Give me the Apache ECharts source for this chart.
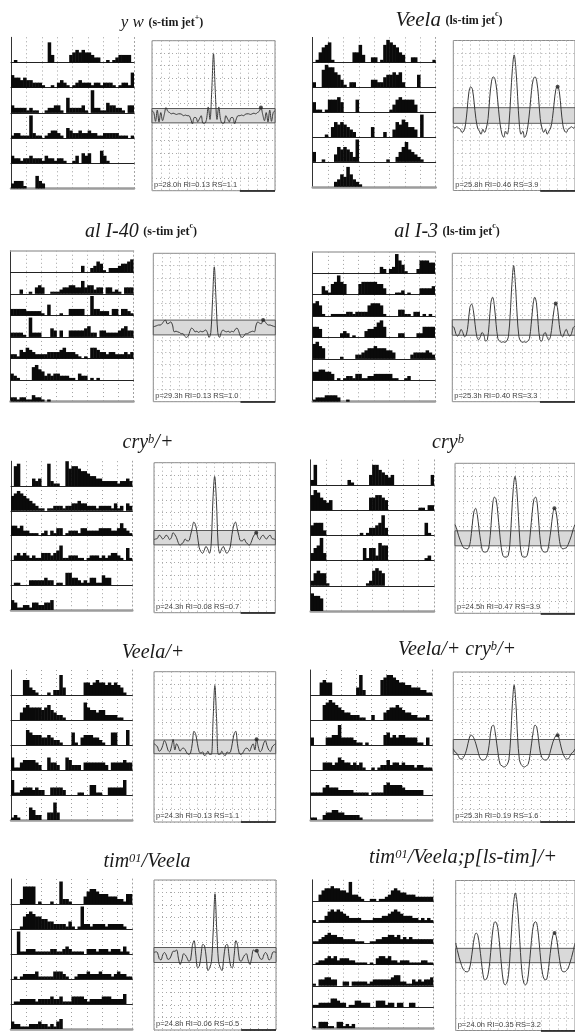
<!DOCTYPE html>
<html><head><meta charset="utf-8">
<script src="https://cdn.jsdelivr.net/npm/echarts/dist/echarts.min.js"></script>
<style>html,body{margin:0;padding:0;background:#fff}#c{width:575px;height:1032px}</style>
</head><body><div id="c"></div>
<script>
// ---------- DATA ----------
const bins = Array.from({length: 40}, (_, i) => i);
const lags = [-70,-68,-66,-64,-62,-60,-58,-56,-54,-52,-50,-48,-46,-44,-42,-40,-38,-36,-34,-32,-30,-28,-26,-24,-22,-20,-18,-16,-14,-12,-10,-8,-6,-4,-2,0,2,4,6,8,10,12,14,16,18,20,22,24,26,28,30,32,34,36,38,40,42,44,46,48,50,52,54,56,58,60,62,64,66,68,70];

const titles = [
  '{m|y w} {s|(s-tim jet}{ss|+}{s|)}',
  '{m|Veela} {s|(ls-tim jet}{ss|c}{s|)}',
  '{m|al I-40} {s|(s-tim jet}{ss|c}{s|)}',
  '{m|al I-3} {s|(ls-tim jet}{ss|c}{s|)}',
  '{m|cry}{sup|b}{m|/+}',
  '{m|cry}{sup|b}',
  '{m|Veela/+}',
  '{m|Veela/+ cry}{sup|b}{m|/+}',
  '{m|tim}{sup|01}{m|/Veela}',
  '{m|tim}{sup|01}{m|/Veela;p[ls-tim]/+}'
];
const stats = [
  'p=28.0h RI=0.13 RS=1.1','p=25.8h RI=0.46 RS=3.9','p=29.3h RI=0.13 RS=1.0','p=25.3h RI=0.40 RS=3.3',
  'p=24.3h RI=0.08 RS=0.7','p=24.5h RI=0.47 RS=3.9','p=24.3h RI=0.13 RS=1.1','p=25.3h RI=0.19 RS=1.6',
  'p=24.8h RI=0.06 RS=0.5','p=24.0h RI=0.35 RS=3.2'
];
const bands = [0.115, 0.125, 0.12, 0.125, 0.115, 0.12, 0.11, 0.12, 0.12, 0.115];
const stars = [[54,0.13],[50,0.46],[56,0.12],[48,0.39],[48,0.08],[46,0.48],[48,0.12],[50,0.19],[48,0.07],[46,0.36]];

const actYw = [
 [0,1,0,0,0,0,0,0,0,0,0,0,8,3,0,0,0,0,0,3,4,5,4,5,4,4,3,2,2,0,0,1,0,1,2,3,3,3,3,0],
 [5,4,4,3,4,3,3,2,2,2,1,0,0,1,0,2,3,2,1,0,1,2,3,2,2,2,1,2,2,1,2,2,2,1,0,1,2,2,1,6],
 [3,2,2,2,2,1,2,1,1,0,0,1,2,2,3,3,1,0,6,2,2,2,2,3,1,0,9,2,2,1,1,4,3,3,2,2,1,0,3,3],
 [1,2,2,1,1,1,9,2,1,1,0,1,2,3,3,2,1,0,4,3,2,2,3,2,2,3,2,2,1,1,2,2,2,2,2,1,1,1,0,1],
 [3,2,2,1,2,2,3,2,2,2,1,3,2,2,1,2,2,1,0,0,1,3,0,4,3,4,0,0,0,5,3,1,0,0,0,0,0,0,0,0],
 [2,3,3,3,1,0,0,0,5,3,2,0,0,0,0,0,0,0,0,0,0,0,0,0,0,0,0,0,0,0,0,0,0,0,0,0,0,0,0,0]
];
const actVeela = [
 [0,1,4,6,7,8,1,0,0,0,0,0,0,4,4,7,3,0,0,2,2,0,1,7,9,8,7,6,4,3,0,0,2,2,0,0,0,0,0,1],
 [2,0,0,7,9,8,8,6,5,3,1,0,2,2,0,0,0,0,0,3,3,2,2,4,5,5,6,5,6,2,0,0,0,0,5,0,0,0,0,0],
 [4,1,1,0,1,5,5,5,6,4,0,0,0,0,5,0,0,0,0,0,0,0,0,0,0,1,3,5,6,5,5,5,5,3,0,0,0,0,0,0],
 [0,0,0,0,1,0,4,6,5,6,5,4,3,2,0,0,0,0,0,4,0,0,0,2,0,0,3,6,5,7,6,4,4,3,0,9,0,0,0,0],
 [4,0,0,1,0,0,0,3,6,5,6,5,4,2,9,0,0,0,0,0,0,0,0,0,1,0,0,2,4,6,8,5,4,3,2,1,0,0,0,0],
 [0,0,0,0,0,0,0,2,3,5,4,8,5,3,2,1,0,0,0,0,0,0,0,0,0,0,0,0,0,0,0,0,0,0,0,0,0,0,0,0]
];
const actAl40 = [
 [0,0,0,0,0,0,0,0,0,0,0,0,0,0,0,0,0,0,0,0,0,0,0,3,0,0,2,3,5,4,1,0,2,2,2,3,4,4,5,6],
 [0,0,0,2,0,0,1,0,3,4,3,0,0,1,1,1,2,3,3,4,4,3,3,6,3,4,4,2,3,3,0,3,3,1,2,1,0,3,3,3],
 [3,3,3,3,3,2,2,2,2,2,1,0,5,0,0,0,1,0,0,3,3,3,3,3,0,0,9,3,3,2,2,2,0,3,3,0,3,3,2,1],
 [2,2,2,2,1,0,9,2,2,2,0,0,0,4,3,0,3,0,0,3,3,3,3,3,4,5,2,2,0,3,3,2,2,2,2,3,4,5,3,3],
 [2,2,1,4,3,5,4,3,2,2,2,2,3,3,3,3,4,5,3,3,3,2,1,0,1,0,5,5,4,3,3,2,3,3,2,2,2,3,2,3],
 [3,2,1,0,0,0,0,6,7,5,4,2,3,2,3,3,2,2,2,1,1,0,3,2,2,0,1,0,1,0,0,0,0,0,0,0,0,0,0,0],
 [2,2,1,2,2,1,1,3,2,2,1,0,1,0,0,0,0,0,0,0,0,0,0,0,0,0,0,0,0,0,0,0,0,0,0,0,0,0,0,0]
];
const actAl3 = [
 [0,0,0,0,0,0,0,0,0,0,0,0,0,0,0,0,0,0,0,0,0,0,3,2,0,2,3,9,6,4,1,0,0,0,2,6,6,6,5,5],
 [0,0,0,4,2,1,5,6,9,6,5,0,0,0,0,5,6,6,6,6,6,5,5,3,0,0,0,1,1,2,0,1,0,0,0,3,3,3,3,4],
 [6,7,5,1,0,0,1,1,1,1,1,2,2,1,2,2,2,2,5,6,6,6,5,1,0,0,0,0,3,3,1,1,0,2,2,0,1,0,1,0],
 [5,5,4,0,0,0,0,0,0,2,3,2,0,1,0,0,0,3,4,4,5,7,8,5,0,0,0,0,2,2,0,0,0,0,2,2,5,5,5,5],
 [7,8,6,5,0,0,0,0,0,1,0,0,0,0,2,2,3,4,5,5,6,5,5,5,4,4,3,0,0,0,0,0,2,3,3,3,3,4,3,2],
 [4,4,5,5,4,4,3,0,1,0,1,2,2,1,3,3,1,1,2,2,3,3,3,3,3,3,1,1,0,0,1,2,0,0,0,0,0,0,0,0],
 [1,2,2,2,3,3,3,3,2,0,0,1,0,0,0,0,0,0,0,0,0,0,0,0,0,0,0,0,0,0,0,0,0,0,0,0,0,0,0,0]
];
const actCryHet = [
 [0,8,9,0,0,0,0,3,2,3,0,0,9,2,1,1,0,0,10,7,8,8,7,6,6,5,4,4,3,3,2,2,2,2,2,1,2,2,3,2],
 [6,7,8,7,6,5,4,3,2,1,1,0,1,1,2,2,2,1,2,2,3,3,4,3,3,2,2,2,1,2,2,2,2,1,3,1,2,0,3,2],
 [4,4,3,4,2,2,1,1,1,0,1,2,0,2,1,3,3,0,1,2,2,2,1,3,3,2,2,2,2,3,3,3,3,2,2,3,5,3,2,1],
 [0,2,3,2,3,2,1,2,1,1,3,3,3,2,3,4,6,1,1,2,2,2,1,1,0,1,2,2,2,1,2,1,2,3,3,2,1,0,5,1],
 [0,1,1,0,0,0,2,2,2,2,2,3,2,2,0,1,1,0,5,5,3,3,2,1,2,1,3,3,1,1,4,3,3,0,0,0,0,0,0,0],
 [4,3,1,1,2,2,1,3,3,2,2,3,3,4,0,0,0,0,0,0,0,0,0,0,0,0,0,0,0,0,0,0,0,0,0,0,0,0,0,0]
];
const actCry = [
 [2,8,0,0,0,0,0,0,0,0,0,0,2,1,0,0,0,0,0,4,8,8,6,5,4,3,4,0,0,0,0,0,0,0,0,0,0,0,0,4],
 [6,8,7,5,4,3,4,0,0,0,0,0,0,0,0,0,0,0,0,5,5,6,6,5,4,0,0,0,0,0,0,0,0,0,0,1,1,0,2,2],
 [4,5,5,5,2,0,0,0,0,0,0,0,0,0,0,0,1,0,1,3,3,4,5,8,3,0,0,0,0,0,0,0,0,0,0,0,0,5,1,0],
 [3,5,6,9,3,0,0,0,0,0,0,0,0,0,0,0,0,5,1,5,5,2,7,6,6,0,0,0,0,0,0,0,0,0,0,0,0,1,2,0],
 [2,5,6,5,5,1,0,0,0,0,0,0,0,0,0,0,0,0,1,2,6,7,6,5,0,0,0,0,0,0,0,0,0,0,0,0,0,0,0,0],
 [7,6,6,5,0,0,0,0,0,0,0,0,0,0,0,0,0,0,0,0,0,0,0,0,0,0,0,0,0,0,0,0,0,0,0,0,0,0,0,0]
];
const actVeelaHet = [
 [0,0,0,0,6,6,3,2,1,0,0,0,1,0,2,2,8,3,0,0,0,0,0,0,5,5,4,5,6,5,5,4,5,4,5,4,3,1,0,0],
 [0,0,0,3,5,6,5,5,5,5,4,5,6,4,3,2,2,1,0,0,0,0,0,0,7,5,4,4,3,4,4,2,2,2,2,1,1,0,0,0],
 [0,0,0,0,0,6,5,4,4,4,3,3,4,3,2,2,1,0,0,0,5,1,0,3,4,4,4,3,3,2,1,0,0,5,5,0,0,0,6,0],
 [5,1,1,3,4,4,4,4,3,2,0,0,5,3,3,2,0,0,5,4,2,2,2,0,3,3,3,3,3,3,3,2,0,3,3,3,3,4,3,3],
 [6,1,1,2,3,3,3,2,3,2,2,0,0,3,3,3,3,2,0,0,0,0,1,1,0,0,4,4,1,1,0,0,3,3,3,3,3,6,0,0],
 [1,2,1,0,0,0,5,4,2,2,0,0,3,3,7,3,0,0,0,0,0,0,0,0,0,0,0,0,0,0,0,0,0,0,0,0,0,0,0,0]
];
const actVeelaCry = [
 [0,0,0,5,6,5,5,0,0,0,0,0,0,0,0,3,8,2,0,0,0,0,0,6,7,8,8,7,6,5,5,4,4,3,3,3,2,2,1,1],
 [0,0,0,0,6,7,8,7,6,5,4,3,3,2,2,2,1,1,0,0,2,0,0,0,3,4,5,5,6,5,4,3,3,2,2,1,1,1,2,0],
 [3,0,0,0,0,3,3,4,4,8,3,3,3,3,2,1,1,0,1,0,0,0,0,0,4,5,3,4,3,4,4,3,3,3,3,1,1,0,3,0],
 [0,0,0,0,3,3,3,2,3,5,4,3,3,2,3,2,3,1,0,0,1,0,1,2,2,4,2,3,3,2,3,2,2,2,1,2,2,1,1,1],
 [1,1,1,1,3,4,3,3,3,2,2,2,2,2,1,1,1,1,1,0,1,1,1,1,4,5,4,4,4,4,3,2,2,2,2,2,2,0,0,0],
 [1,1,0,0,2,3,3,4,4,3,3,2,2,2,2,2,1,0,0,0,0,0,0,0,0,0,0,0,0,0,0,0,0,0,0,0,0,0,0,0]
];
const actTim = [
 [0,0,0,2,7,7,7,7,0,1,0,0,0,1,0,0,9,2,2,1,0,0,0,0,3,5,6,6,5,4,4,4,3,3,3,2,2,1,4,4],
 [0,0,0,1,5,6,7,6,5,5,4,4,3,3,2,2,2,2,1,3,1,0,1,9,2,2,1,2,2,2,2,1,2,2,2,2,2,1,0,0],
 [0,0,9,1,1,2,2,2,1,1,1,1,1,2,2,1,1,2,3,2,1,1,1,1,0,2,2,2,1,2,2,2,1,2,2,2,1,3,1,0],
 [0,1,0,1,2,2,2,2,3,1,1,1,1,1,3,3,3,2,1,0,0,1,2,2,2,3,2,2,2,3,2,2,2,1,2,3,2,2,1,1],
 [0,1,1,2,2,2,2,2,1,2,2,2,2,3,2,2,3,1,1,1,3,3,3,3,2,1,2,2,2,2,3,3,3,2,2,2,2,4,0,0],
 [3,2,2,1,1,1,2,2,2,3,2,2,1,2,1,3,4,0,0,0,0,0,0,0,0,0,0,0,0,0,0,0,0,0,0,0,0,0,0,0]
];
const actTimLs = [
 [0,0,3,5,6,6,7,6,6,5,5,4,9,3,3,2,1,0,0,1,1,0,1,1,2,3,5,6,5,4,4,3,3,3,2,2,2,2,2,2],
 [1,0,1,1,3,5,6,5,6,5,4,3,2,2,2,2,1,1,1,1,2,2,2,3,3,4,5,6,5,4,3,3,3,2,2,1,2,1,2,1],
 [1,1,2,3,4,5,4,4,3,3,2,2,2,2,1,1,1,0,0,1,1,2,2,3,3,4,4,3,4,2,3,2,3,2,2,2,2,2,2,2],
 [0,1,2,2,3,4,3,4,2,3,3,3,2,2,1,1,1,1,0,1,0,3,4,4,3,4,2,2,1,2,2,2,1,1,1,1,2,2,1,1],
 [1,0,3,3,4,4,3,3,0,0,2,2,0,2,2,2,2,2,1,2,3,3,3,3,3,3,4,5,5,2,2,1,1,3,2,3,2,3,3,4],
 [1,1,2,2,2,2,4,4,3,2,2,0,1,1,3,3,2,2,2,0,0,3,3,3,1,2,2,0,2,2,0,0,2,2,0,0,0,0,0,0],
 [1,0,3,3,3,1,1,0,3,3,1,2,1,2,0,0,0,0,0,0,0,0,0,0,0,0,0,0,0,0,0,0,0,0,0,0,0,0,0,0]
];

const acfYw = [0.08,0.05,-0.09,0.09,-0.1,0.05,-0.08,0.02,0.13,0.07,0.05,0.03,0.04,0.03,0.02,0.03,0.03,0.02,0.0,0.01,0.0,0.0,-0.05,-0.13,-0.03,-0.03,-0.1,-0.05,0.0,-0.12,-0.12,-0.06,0.14,-0.06,0.4,0.99,0.4,-0.06,0.14,-0.06,-0.12,-0.12,0.0,-0.05,-0.1,-0.03,-0.03,-0.13,-0.05,0.0,0.0,0.01,0.0,0.02,0.03,0.03,0.02,0.03,0.04,0.03,0.05,0.07,0.13,0.02,-0.08,0.05,-0.1,0.09,-0.09,0.05,0.08];
const acfVeela = [-0.18,-0.2,-0.18,-0.2,-0.22,-0.27,-0.25,-0.15,0.1,0.38,0.46,0.42,0.2,-0.05,-0.2,-0.25,-0.3,-0.22,-0.27,-0.2,-0.05,0.3,0.55,0.62,0.58,0.4,0.1,-0.15,-0.3,-0.35,-0.25,-0.3,-0.15,0.3,0.75,0.97,0.75,0.3,-0.15,-0.3,-0.25,-0.35,-0.3,-0.15,0.1,0.4,0.58,0.62,0.55,0.3,-0.05,-0.2,-0.27,-0.22,-0.3,-0.25,-0.2,-0.05,0.2,0.42,0.46,0.38,0.1,-0.15,-0.25,-0.27,-0.22,-0.2,-0.18,-0.2,-0.18];
const acfAl40 = [0.01,0.02,0.03,0.04,0.04,0.06,0.1,0.12,0.06,0.07,0.09,0.04,-0.07,-0.06,-0.07,-0.08,-0.1,-0.1,-0.14,-0.16,-0.14,-0.06,-0.01,-0.03,-0.07,-0.06,-0.08,-0.06,-0.07,-0.06,-0.04,-0.08,-0.16,-0.08,0.45,0.98,0.45,-0.08,-0.16,-0.08,-0.04,-0.06,-0.07,-0.06,-0.08,-0.06,-0.07,-0.03,-0.01,-0.06,-0.14,-0.16,-0.14,-0.1,-0.1,-0.08,-0.07,-0.06,-0.07,0.04,0.09,0.07,0.06,0.12,0.1,0.06,0.04,0.04,0.03,0.02,0.01];
const acfAl3 = [0.02,0.0,-0.1,-0.14,-0.1,-0.03,-0.08,-0.15,-0.12,0.05,0.32,0.38,0.28,0.05,-0.15,-0.2,-0.15,-0.08,-0.12,-0.22,-0.2,0.05,0.4,0.49,0.35,0.05,-0.18,-0.22,-0.24,-0.23,-0.24,-0.22,-0.15,0.2,0.7,1.0,0.7,0.2,-0.15,-0.22,-0.24,-0.23,-0.24,-0.22,-0.18,0.05,0.35,0.49,0.4,0.05,-0.2,-0.22,-0.12,-0.08,-0.15,-0.2,-0.15,0.05,0.28,0.38,0.32,0.05,-0.12,-0.15,-0.08,-0.03,-0.1,-0.14,-0.1,0.0,0.02];
const acfCryHet = [-0.03,-0.02,-0.01,0.04,0.02,-0.02,0.0,0.04,0.02,-0.03,0.0,0.08,0.05,0.0,-0.08,-0.12,-0.1,-0.07,-0.02,-0.05,-0.05,0.03,0.15,0.25,0.2,0.05,-0.15,-0.22,-0.25,-0.2,-0.14,-0.18,-0.25,-0.1,0.6,0.98,0.6,-0.1,-0.25,-0.18,-0.14,-0.2,-0.25,-0.22,-0.15,0.05,0.2,0.25,0.15,0.03,-0.05,-0.05,-0.02,-0.07,-0.1,-0.12,-0.08,0.0,0.05,0.08,0.0,-0.03,0.02,0.04,0.0,-0.02,0.02,0.04,-0.01,-0.02,-0.03];
const acfCry = [0.22,0.15,0.05,-0.03,-0.1,-0.15,-0.16,-0.17,-0.15,-0.05,0.2,0.42,0.48,0.38,0.15,-0.05,-0.2,-0.22,-0.22,-0.2,-0.1,0.2,0.55,0.66,0.62,0.4,0.1,-0.15,-0.28,-0.3,-0.3,-0.28,-0.1,0.35,0.8,0.99,0.8,0.35,-0.1,-0.28,-0.3,-0.3,-0.28,-0.15,0.1,0.4,0.62,0.66,0.55,0.2,-0.1,-0.2,-0.22,-0.22,-0.2,-0.05,0.15,0.38,0.48,0.42,0.2,-0.05,-0.15,-0.17,-0.16,-0.15,-0.1,-0.03,0.05,0.15,0.22];
const acfVeelaHet = [0.05,0.03,0.0,-0.07,-0.05,0.02,0.1,0.05,-0.05,-0.08,0.0,0.12,-0.05,0.05,0.0,-0.07,-0.03,-0.02,-0.05,-0.1,-0.12,-0.1,0.05,0.25,0.2,0.05,-0.08,-0.1,-0.08,-0.14,-0.12,-0.07,-0.12,-0.12,0.45,0.98,0.45,-0.12,-0.12,-0.07,-0.12,-0.14,-0.08,-0.1,-0.08,0.05,0.2,0.25,0.05,-0.1,-0.12,-0.1,-0.05,-0.02,-0.03,-0.07,0.0,0.05,-0.05,0.12,0.0,-0.08,-0.05,0.05,0.1,0.02,-0.05,-0.07,0.0,0.03,0.05];
const acfVeelaCry = [-0.03,-0.08,-0.1,-0.15,-0.19,-0.19,-0.16,-0.1,0.0,0.12,0.19,0.18,0.13,0.05,-0.05,-0.15,-0.2,-0.21,-0.2,-0.17,-0.08,0.12,0.32,0.35,0.25,0.05,-0.15,-0.28,-0.3,-0.32,-0.31,-0.28,-0.2,0.15,0.7,0.99,0.7,0.15,-0.2,-0.28,-0.31,-0.32,-0.3,-0.28,-0.15,0.05,0.25,0.35,0.32,0.12,-0.08,-0.17,-0.2,-0.21,-0.2,-0.15,-0.05,0.05,0.13,0.18,0.19,0.12,0.0,-0.1,-0.16,-0.19,-0.19,-0.15,-0.1,-0.08,-0.03];
const acfTim = [0.04,0.05,0.04,-0.06,-0.08,0.0,0.04,0.0,-0.07,-0.06,0.0,0.06,0.06,0.08,-0.05,-0.15,-0.08,0.02,0.0,-0.05,-0.1,-0.08,0.15,0.23,0.0,-0.2,-0.18,0.0,0.17,0.15,-0.05,-0.25,-0.2,-0.1,0.4,0.98,0.4,-0.1,-0.2,-0.25,-0.05,0.15,0.17,0.0,-0.18,-0.2,0.0,0.23,0.15,-0.08,-0.1,-0.05,0.0,0.02,-0.08,-0.15,-0.05,0.08,0.06,0.06,0.0,-0.06,-0.07,0.0,0.04,0.0,-0.08,-0.06,0.04,0.05,0.04];
const acfTimLs = [0.2,0.08,-0.03,-0.12,-0.2,-0.24,-0.26,-0.26,-0.22,-0.08,0.12,0.3,0.36,0.32,0.15,-0.08,-0.3,-0.39,-0.38,-0.3,-0.1,0.2,0.45,0.54,0.52,0.38,0.1,-0.2,-0.42,-0.47,-0.44,-0.3,0.05,0.5,0.85,1.0,0.85,0.5,0.05,-0.3,-0.44,-0.47,-0.42,-0.2,0.1,0.38,0.52,0.54,0.45,0.2,-0.1,-0.3,-0.38,-0.39,-0.3,-0.08,0.15,0.32,0.36,0.3,0.12,-0.08,-0.22,-0.26,-0.26,-0.24,-0.2,-0.12,-0.03,0.08,0.2];

const actograms = [actYw, actVeela, actAl40, actAl3, actCryHet, actCry, actVeelaHet, actVeelaCry, actTim, actTimLs];
const acfs = [acfYw, acfVeela, acfAl40, acfAl3, acfCryHet, acfCry, acfVeelaHet, acfVeelaCry, acfTim, acfTimLs];

// ---------- LAYOUT (pixels) ----------
const layout = [
 {ax:11,    aw:123,   b1:62.5,  sp:25.2,  cx:152,   cy:40.7,  cw:123,   ch:150,   tx:162, ty:22.7, fs:17, topLine:false},
 {ax:312.7, aw:123,   b1:62.3,  sp:24.9,  cx:453.3, cy:40.5,  cw:123,   ch:150,   tx:449, ty:20.7, fs:21, topLine:false},
 {ax:10.5,  aw:123,   b1:272.3, sp:21.55, cx:153.3, cy:253.3, cw:122,   ch:148.4, tx:141, ty:231.7, fs:20, topLine:true},
 {ax:312.7, aw:122.3, b1:273.3, sp:21.4,  cx:452.3, cy:253.3, cw:123,   ch:148.4, tx:447, ty:231.7, fs:20, topLine:true},
 {ax:11,    aw:121.3, b1:486,   sp:24.8,  cx:154,   cy:462.7, cw:121.3, ch:150,   tx:148, ty:443, fs:20, topLine:false},
 {ax:310.7, aw:123.3, b1:485,   sp:25.2,  cx:455,   cy:463.3, cw:122,   ch:150,   tx:448, ty:443, fs:20, topLine:false},
 {ax:11,    aw:121.3, b1:695,   sp:25,    cx:154,   cy:671.7, cw:121.7, ch:150.3, tx:153, ty:653, fs:20, topLine:false},
 {ax:310.7, aw:121.6, b1:695,   sp:25,    cx:453.3, cy:672,   cw:122,   ch:150,   tx:457, ty:650, fs:20, topLine:false},
 {ax:11,    aw:121.3, b1:904,   sp:25,    cx:154,   cy:880,   cw:122,   ch:150,   tx:147, ty:862, fs:20, topLine:false},
 {ax:312.7, aw:120.6, b1:901,   sp:21.2,  cx:455.7, cy:880.5, cw:122,   ch:150,   tx:463, ty:858, fs:20.5, topLine:false}
];

// ---------- BUILD ----------
const grids = [], xAxes = [], yAxes = [], series = [], titleList = [];
const serif = "'Liberation Serif','DejaVu Serif',serif";
const off = {show:false};
const dotted = {color:'#a0a0a0', width:1, type:[1,3]};

actograms.forEach((act, pi) => {
  const L = layout[pi];
  act.forEach((row, ri) => {
    const gi = grids.length;
    const last = ri === act.length - 1;
    grids.push({left: L.ax, top: L.b1 + L.sp * (ri - 1), width: L.aw, height: L.sp, containLabel: false});
    const xi = xAxes.length, yi = yAxes.length;
    xAxes.push({type:'category', gridIndex: gi, data: bins, boundaryGap: true, position:'bottom',
      axisLine:{show:true, onZero:false, lineStyle:{color: last ? '#9c9c9c' : '#222', width: last ? 2.5 : 1}},
      axisTick: off, axisLabel: off,
      splitLine:{show:true, interval: (i) => i % 5 === 0 && i > 0, lineStyle: dotted}});
    if (ri === 0 && L.topLine) {
      xAxes.push({type:'category', gridIndex: gi, data: bins, position:'top',
        axisLine:{show:true, onZero:false, lineStyle:{color:'#aaaaaa', width:1.5}}, axisTick: off, axisLabel: off, splitLine: off});
    }
    yAxes.push({type:'value', gridIndex: gi, min:0, max:10, position:'left',
      axisLine:{show:true, onZero:false, lineStyle:{color:'#333', width:1}}, axisTick: off, axisLabel: off, splitLine: off});
    yAxes.push({type:'value', gridIndex: gi, min:0, max:10, position:'right',
      axisLine:{show:true, onZero:false, lineStyle: dotted}, axisTick: off, axisLabel: off, splitLine: off});
    series.push({type:'bar', xAxisIndex: xi, yAxisIndex: yi, data: row, barWidth:'115%',
      itemStyle:{color:'#0a0a0a'}, silent:true, large:false});
  });

  const gi = grids.length;
  const xi = xAxes.length, yi = yAxes.length;
  grids.push({left: L.cx, top: L.cy, width: L.cw, height: L.ch, show:true, borderColor:'#8a8a8a', borderWidth:1, containLabel:false});
  xAxes.push({type:'value', gridIndex: gi, min:-70, max:70, interval:10,
    axisLine: off, axisTick: off, axisLabel: off,
    splitLine:{show:true, lineStyle:{color:'#a8a8a8', width:1, type:[1,3]}}});
  yAxes.push({type:'value', gridIndex: gi, min:-1.2, max:1.2, interval:0.2,
    axisLine: off, axisTick: off, axisLabel: off,
    splitLine:{show:true, lineStyle:{color:'#a8a8a8', width:1, type:[1,3]}}});
  series.push({type:'line', xAxisIndex: xi, yAxisIndex: yi, data: lags.map((l, i) => [l, acfs[pi][i]]),
    smooth: 0.35, symbol:'none', silent:true, lineStyle:{color:'#3a3a3a', width:1},
    markArea:{silent:true, itemStyle:{color:'#d9d9d9', borderColor:'#4a4a4a', borderWidth:0.9},
      data:[[{yAxis:-bands[pi]}, {yAxis:bands[pi]}]]},
    markLine:{silent:true, symbol:'none', label:{show:false}, lineStyle:{color:'#111', width:1.5, type:'solid'},
      data:[[{coord:[30,-1.2]}, {coord:[70,-1.2]}]]}});
  series.push({type:'scatter', xAxisIndex: xi, yAxisIndex: yi, data:[stars[pi]], symbol:'circle', symbolSize:4,
    itemStyle:{color:'#222'}, silent:true, z:5});

  titleList.push({text: titles[pi], left: L.tx, top: L.ty, padding:0, textAlign:'center', textVerticalAlign:'middle',
    textStyle:{fontFamily: serif, fontWeight:'normal', color:'#1a1a1a', rich:{
      m:{fontFamily: serif, fontStyle:'italic', fontWeight:'normal', fontSize: L.fs, color:'#1a1a1a'},
      s:{fontFamily: serif, fontStyle:'normal', fontWeight:'bold', fontSize: 12, color:'#1a1a1a'},
      ss:{fontFamily: serif, fontStyle:'normal', fontWeight:'bold', fontSize: 8, color:'#1a1a1a', verticalAlign:'top'},
      sup:{fontFamily: serif, fontStyle:'italic', fontWeight:'normal', fontSize: 12.5, color:'#1a1a1a', verticalAlign:'top'}
    }}});
  titleList.push({text: stats[pi], left: L.cx + 2, top: L.cy + L.ch - 6, padding:0, textAlign:'left', textVerticalAlign:'middle',
    textStyle:{fontFamily:"'Liberation Sans',Arial,sans-serif", fontSize:7.5, fontWeight:'normal', color:'#444'}});
});

const chart = echarts.init(document.getElementById('c'), null, {renderer:'canvas'});
chart.setOption({
  animation:false,
  backgroundColor:'#ffffff',
  title: titleList,
  grid: grids,
  xAxis: xAxes,
  yAxis: yAxes,
  series: series
});
</script></body></html>
